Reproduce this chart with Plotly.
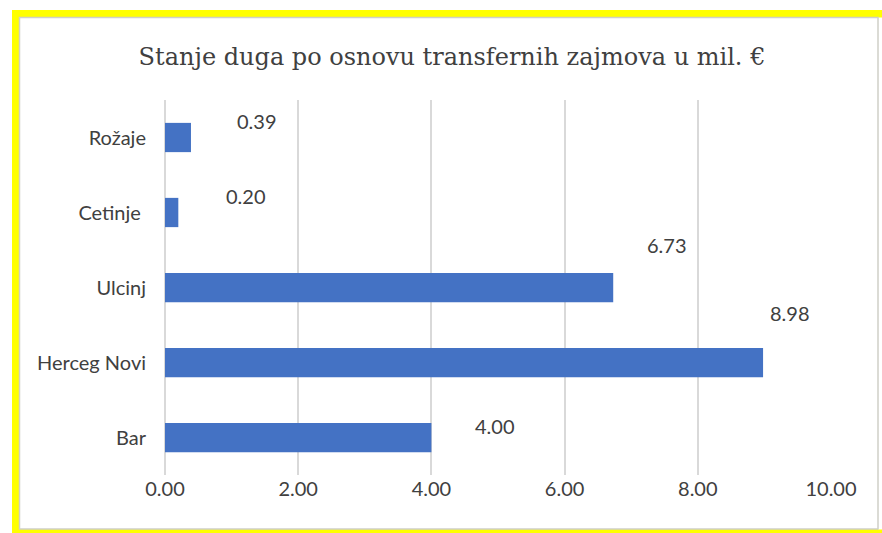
import plotly.graph_objects as go

categories = ["Bar", "Herceg Novi", "Ulcinj", "Cetinje ", "Rožaje"]
values = [4.00, 8.98, 6.73, 0.20, 0.39]
value_labels = ["4.00", "8.98", "6.73", "0.20", "0.39"]
label_dx = [64, 27, 54, 68, 66]
label_dy = [12, 50, 43, 17, 17]
x_ticks = [0, 2, 4, 6, 8, 10]
x_tick_labels = ["0.00", "2.00", "4.00", "6.00", "8.00", "10.00"]
title_text = "Stanje duga po osnovu transfernih zajmova u mil. €"

W, H = 882, 533
ML, MR, MT, MB = 165, 51, 100, 58
PW, PH = W - ML - MR, H - MT - MB

def px_x(p):
    return (p - ML) / PW

def px_y(p):
    return 1 - (p - MT) / PH

FONT = "Lato, Carlito, sans-serif"

fig = go.Figure(go.Bar(
    x=values, y=categories, orientation="h",
    marker=dict(color="#4472C4", line=dict(width=0)),
    width=0.39, hoverinfo="skip",
))

for c, v, t, dx, dy in zip(categories, values, value_labels, label_dx, label_dy):
    fig.add_annotation(x=v, y=c, text=t, showarrow=False, xshift=dx, yshift=dy,
                       font=dict(family=FONT, size=20, color="#404040"))

# yellow frame
fig.add_shape(type="rect", xref="paper", yref="paper", layer="below",
              x0=px_x(12), x1=px_x(884), y0=px_y(535), y1=px_y(10),
              fillcolor="#FFFF00", line=dict(width=0))
# white strip on the right (no yellow there)
fig.add_shape(type="rect", xref="paper", yref="paper", layer="below",
              x0=px_x(878), x1=px_x(884), y0=px_y(529.5), y1=px_y(17.5),
              fillcolor="white", line=dict(width=0))
# inner white chart area with thin grey border
fig.add_shape(type="rect", xref="paper", yref="paper", layer="below",
              x0=px_x(19.5), x1=px_x(878), y0=px_y(529), y1=px_y(17.5),
              fillcolor="white", line=dict(color="#D0D0C8", width=1.5))

fig.update_layout(
    width=W, height=H,
    margin=dict(l=ML, r=MR, t=MT, b=MB, pad=0),
    paper_bgcolor="white", plot_bgcolor="rgba(0,0,0,0)",
    showlegend=False,
    title=dict(text=title_text, x=452 / W, xanchor="center",
               y=1 - 57 / H, yanchor="middle",
               font=dict(family="DejaVu Serif", size=24, color="#404040")),
    xaxis=dict(range=[0, 10], tickvals=x_ticks, ticktext=x_tick_labels,
               showgrid=True, gridcolor="#D9D9D9", gridwidth=1.5,
               zeroline=True, zerolinecolor="#D9D9D9", zerolinewidth=1.5,
               showline=False, ticks="", ticklen=0, automargin=False,
               tickfont=dict(family=FONT, size=20, color="#404040")),
    yaxis=dict(showgrid=False, showline=False, ticks="", ticklabelstandoff=18,
               automargin=False,
               tickfont=dict(family=FONT, size=20, color="#404040")),
)

fig.write_html("out.html", config={"displayModeBar": False},
               post_script="document.body.style.margin='0';document.body.style.padding='0';")
